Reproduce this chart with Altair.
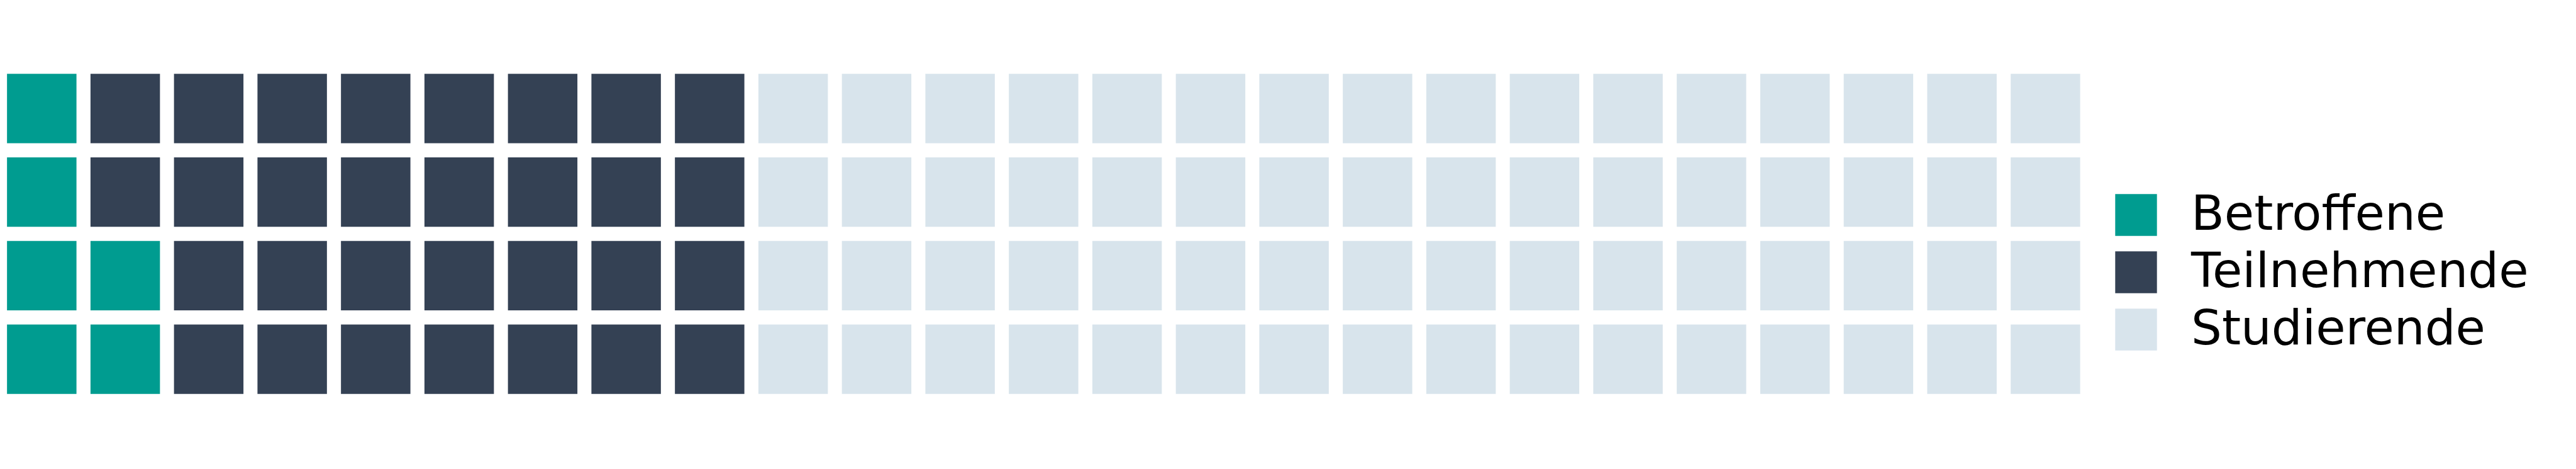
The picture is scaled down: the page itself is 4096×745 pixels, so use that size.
import altair as alt
import pandas as pd

categories = ["Betroffene", "Teilnehmende", "Studierende"]
counts = [6, 30, 64]
colors = ["#009c90", "#344154", "#d8e4ec"]
n_rows = 4

cells = []
for cat, n in zip(categories, counts):
    cells.extend([cat] * n)
df = pd.DataFrame({
    "idx": list(range(len(cells))),
    "category": cells,
})
df["col"] = df["idx"] // n_rows
df["row"] = df["idx"] % n_rows

S = 0.531
step = 250 * S
n_cols = int(df["col"].max()) + 1

chart = alt.Chart(df).mark_rect().encode(
    x=alt.X("col:O", axis=None,
            scale=alt.Scale(paddingInner=0.168, paddingOuter=0.084)),
    y=alt.Y("row:O", axis=None, sort="descending",
            scale=alt.Scale(paddingInner=0.168, paddingOuter=0.084)),
    color=alt.Color(
        "category:N",
        scale=alt.Scale(domain=categories, range=colors),
        legend=alt.Legend(
            title=None,
            orient="none",
            legendX=3358,
            legendY=197,
            symbolType="square",
            symbolSize=(125 * S) ** 2,
            symbolStrokeWidth=0,
            symbolOpacity=1,
            labelFontSize=77,
            labelFont="DejaVu Sans",
            labelColor="black",
            labelOffset=49,
            rowPadding=13,
            labelLimit=1000,
        ),
    ),
).properties(
    width=n_cols * step,
    height=n_rows * step,
    padding={"left": -8, "top": 98, "right": 0, "bottom": 0},
).configure_view(strokeWidth=0)

chart.save("out.html", embed_options={"renderer": "svg", "actions": False})
